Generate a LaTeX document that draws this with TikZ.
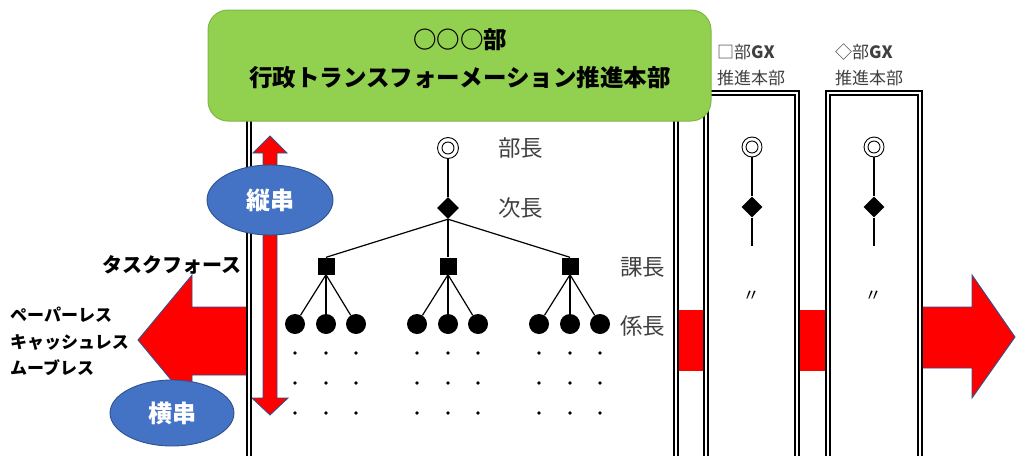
\documentclass[tikz,border=0pt]{standalone}
\usepackage{fontspec}
\setmainfont{Noto Sans CJK JP}
\usetikzlibrary{shapes.geometric}
\definecolor{grn}{HTML}{92D050}
\definecolor{grnb}{HTML}{7DB843}
\definecolor{blu}{HTML}{4472C4}
\definecolor{blub}{HTML}{2F528F}
\definecolor{lbl}{HTML}{404040}
\begin{document}
\begin{tikzpicture}[x=1pt,y=-1pt,
  frame/.style={draw=black,double=white,line width=2.2pt,double distance=1.3pt},
  redarrow/.style={fill=red,draw=blub,line width=0.9pt,line join=miter},
  oval/.style={ellipse,fill=blu,draw=blub,line width=0.9pt,text=white,inner sep=0pt,
    font=\bfseries\fontsize{24}{28}\selectfont},
  ring/.style={circle,draw=black,line width=0.9pt,fill=white,inner sep=0pt,minimum size=21pt,
    path picture={\draw[line width=0.9pt] (path picture bounding box.center) circle (6pt);}},
  dia/.style={diamond,fill=black,inner sep=0pt,minimum width=#1,minimum height=#1},
  sq/.style={rectangle,fill=black,inner sep=0pt,minimum size=17pt},
  ball/.style={circle,fill=black,inner sep=0pt,minimum size=20pt},
  link/.style={draw=black,line width=1.2pt},
  rank/.style={anchor=west,text=lbl,inner sep=0pt,font=\fontsize{22.5}{26}\selectfont},
  boxlbl/.style={anchor=west,text=lbl,inner sep=0pt,font=\fontsize{17}{20}\selectfont},
  side/.style={anchor=west,inner sep=0pt,font=\bfseries\fontsize{17}{20}\selectfont},
  ditto/.style={inner sep=0pt,font=\fontsize{17}{20}\selectfont}
]
\useasboundingbox (0,0) rectangle (1016,455);
\clip (0,0) rectangle (1016,455);

% red arrows and bars
\path[redarrow] (247,307) -- (192,307) -- (192,275) -- (138,340) -- (192,405) -- (192,375) -- (247,375) -- cycle;
\path[redarrow] (270,136) -- (287,153) -- (277,153) -- (277,398) -- (288,398) -- (270,415)
   -- (252,398) -- (263,398) -- (263,153) -- (253,153) -- cycle;
\path[redarrow] (920,307) -- (972,307) -- (972,275) -- (1015,337) -- (972,398) -- (972,368) -- (920,368) -- cycle;
\fill[red] (676,310) rectangle (706,371);
\fill[red] (797,310) rectangle (828,371);

% frames
\draw[frame] (249,100) rectangle (676,470);
\draw[frame] (706,93) rectangle (797,470);
\draw[frame] (828,93) rectangle (920,470);

% ellipses
\node[oval,minimum width=126pt,minimum height=70pt] (tate) at (270,200) {縦串};
\node[oval,minimum width=124pt,minimum height=66pt] (yoko) at (172,413) {横串};

% headquarters box
\node[draw=grnb,fill=grn,line width=1pt,rounded corners=20pt,minimum width=503pt,minimum height=111pt] (hq) at (459.5,65.5) {};
\node[align=center,inner sep=0pt,font=\bfseries\fontsize{23.5}{38}\selectfont] (title) at (460,59) {○○○部\\行政トランスフォーメーション推進本部};

% main org chart
\node[ring] (bu) at (448,148) {};
\node[dia=22pt] (ji) at (448,208) {};
\node[sq] (ka1) at (326,266) {};
\node[sq] (ka2) at (448,266) {};
\node[sq] (ka3) at (570,266) {};
\foreach \g/\xs in {1/{295,326,356},2/{417,448,478},3/{539,570,600}}{
  \foreach \x [count=\i] in \xs {
    \node[ball] (k\g\i) at (\x,324) {};
    \draw[link] (ka\g.south) -- (k\g\i);
    \foreach \y in {353,383,413} \fill (\x,\y) circle (1.8pt);
  }
}
\draw[link] (bu) -- (ji.north);
\draw[link] (ji.south) -- (ka1.north);
\draw[link] (ji.south) -- (ka2.north);
\draw[link] (ji.south) -- (ka3.north);

\node[rank] (lbu) at (498,148) {部長};
\node[rank] (lji) at (498,208) {次長};
\node[rank] (lka) at (620,267) {課長};
\node[rank] (lkk) at (620,326) {係長};

% small boxes
\node[boxlbl] (b1a) at (717,52) {□部\textbf{GX}};
\node[boxlbl] (b1b) at (717,78) {推進本部};
\node[boxlbl] (b2a) at (835,52) {◇部\textbf{GX}};
\node[boxlbl] (b2b) at (835,78) {推進本部};

\node[ring,minimum size=20pt] (sbu1) at (752,147) {};
\node[dia=21pt] (sji1) at (752,207) {};
\coordinate (send1) at (752,246);
\draw[link] (sbu1) -- (sji1.north);
\draw[link] (sji1.south) -- (send1);
\node[ditto] (d1) at (751,296) {〃};

\node[ring,minimum size=20pt] (sbu2) at (874,147) {};
\node[dia=21pt] (sji2) at (874,207) {};
\coordinate (send2) at (874,246);
\draw[link] (sbu2) -- (sji2.north);
\draw[link] (sji2.south) -- (send2);
\node[ditto] (d2) at (873,296) {〃};

% left texts
\node[side,font=\bfseries\fontsize{20}{24}\selectfont] (tf) at (102,265) {タスクフォース};
\node[side] (t1) at (10,315) {ペーパーレス};
\node[side] (t2) at (10,342) {キャッシュレス};
\node[side] (t3) at (10,368) {ムーブレス};
\end{tikzpicture}
\end{document}
